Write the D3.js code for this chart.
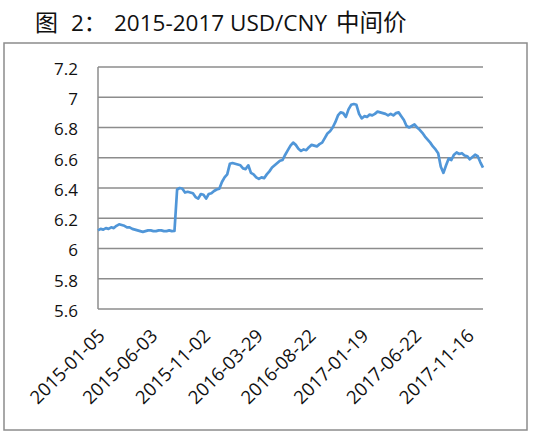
<!DOCTYPE html>
<html>
<head>
<meta charset="utf-8">
<script src="https://cdn.jsdelivr.net/npm/d3@7"></script>
<style>
  body { margin: 0; background: #fff; }
  svg { display: block; }
  .grid line { stroke: #8c8c8c; stroke-width: 1.5; }
  .ylab text, .xlab text { font-family: "Open Sans", "Noto Sans", sans-serif; font-size: 17px; fill: #111; }
  .xlab text { font-size: 18.5px; }
</style>
</head>
<body>
<svg width="550" height="432"></svg>
<script>
"use strict";

// USD/CNY central parity, one value per week (every 5 trading days)
const daysPerPoint = 5;
const totalDays = 730;
const rate = [
  6.12, 6.13, 6.125, 6.135, 6.13, 6.14, 6.135, 6.15, 6.16, 6.155,
  6.15, 6.14, 6.14, 6.13, 6.125, 6.12, 6.115, 6.11, 6.115, 6.12,
  6.12, 6.115, 6.115, 6.12, 6.12, 6.115, 6.115, 6.12, 6.115, 6.116,
  6.39, 6.40, 6.395, 6.37, 6.375, 6.37, 6.365, 6.34, 6.33, 6.36,
  6.355, 6.33, 6.36, 6.365, 6.38, 6.39, 6.395, 6.44, 6.47, 6.49,
  6.56, 6.565, 6.56, 6.555, 6.55, 6.53, 6.525, 6.55, 6.50, 6.49,
  6.47, 6.46, 6.47, 6.465, 6.49, 6.51, 6.535, 6.55, 6.565, 6.58,
  6.585, 6.62, 6.65, 6.68, 6.70, 6.685, 6.66, 6.645, 6.655, 6.65,
  6.67, 6.685, 6.68, 6.675, 6.69, 6.70, 6.73, 6.76, 6.775, 6.80,
  6.835, 6.88, 6.90, 6.895, 6.87, 6.92, 6.95, 6.955, 6.95, 6.89,
  6.86, 6.875, 6.87, 6.885, 6.88, 6.89, 6.905, 6.90, 6.895, 6.89,
  6.88, 6.89, 6.88, 6.895, 6.90, 6.875, 6.85, 6.81, 6.80, 6.81,
  6.82, 6.80, 6.785, 6.765, 6.74, 6.72, 6.70, 6.675, 6.655, 6.63,
  6.54, 6.50, 6.55, 6.595, 6.585, 6.62, 6.635, 6.625, 6.63, 6.615,
  6.61, 6.59, 6.605, 6.62, 6.61, 6.57, 6.535
];

// category labels shown every 100 trading days
const xLabels = ["2015-01-05", "2015-06-03", "2015-11-02", "2016-03-29",
                 "2016-08-22", "2017-01-19", "2017-06-22", "2017-11-16"];
const labelStep = 100;
const yTicks = [5.6, 5.8, 6, 6.2, 6.4, 6.6, 6.8, 7, 7.2];

const svg = d3.select("svg");

// outer chart frame
svg.append("rect")
  .attr("x", 4).attr("y", 43)
  .attr("width", 523).attr("height", 387)
  .attr("fill", "none")
  .attr("stroke", "#8c8c8c")
  .attr("stroke-width", 1.5);

// title, pieces placed like the original layout
const title = svg.append("text")
  .attr("y", 31)
  .style("font-family", "'Open Sans', 'Noto Sans CJK SC', sans-serif")
  .style("font-size", "22.5px")
  .attr("fill", "#111");
title.append("tspan").attr("x", 35).style("font-size", "23px").text("图");
title.append("tspan").attr("x", 71).text("2：");
title.append("tspan").attr("x", 114).text("2015-2017 USD/CNY");
title.append("tspan").attr("x", 336).style("font-size", "23.5px").text("中间价");

const plot = { left: 98, right: 483, top: 67, bottom: 309 };

const x = d3.scaleLinear().domain([0, totalDays]).range([plot.left, plot.right]);
const y = d3.scaleLinear().domain([5.6, 7.2]).range([plot.bottom, plot.top]);

// horizontal gridlines
svg.append("g").attr("class", "grid")
  .selectAll("line")
  .data(yTicks)
  .enter().append("line")
  .attr("x1", plot.left).attr("x2", plot.right)
  .attr("y1", d => y(d)).attr("y2", d => y(d));

// left axis line
svg.append("line")
  .attr("x1", plot.left).attr("x2", plot.left)
  .attr("y1", plot.top).attr("y2", plot.bottom)
  .attr("stroke", "#8c8c8c").attr("stroke-width", 1.5);

// y labels
const yAxis = d3.axisLeft(y).tickValues(yTicks).tickSize(0).tickPadding(20)
  .tickFormat(d => String(+d.toFixed(1)));
svg.append("g").attr("class", "ylab")
  .attr("transform", "translate(" + plot.left + ",2)")
  .call(yAxis)
  .call(g => g.select(".domain").remove())
  .selectAll("text").attr("font-family", null).attr("font-size", null);

// rotated x labels
svg.append("g").attr("class", "xlab")
  .selectAll("text")
  .data(xLabels)
  .enter().append("text")
  .attr("text-anchor", "end")
  .attr("transform", (d, i) => "translate(" + (x(i * labelStep) + 8) + "," + 337 + ") rotate(-45)")
  .text(d => d);

// the series
const line = d3.line()
  .x((d, i) => x(i * daysPerPoint))
  .y(d => y(d));

svg.append("path")
  .datum(rate)
  .attr("fill", "none")
  .attr("stroke", "#5096d8")
  .attr("stroke-width", 2.7)
  .attr("stroke-linejoin", "round")
  .attr("d", line);
</script>
</body>
</html>
